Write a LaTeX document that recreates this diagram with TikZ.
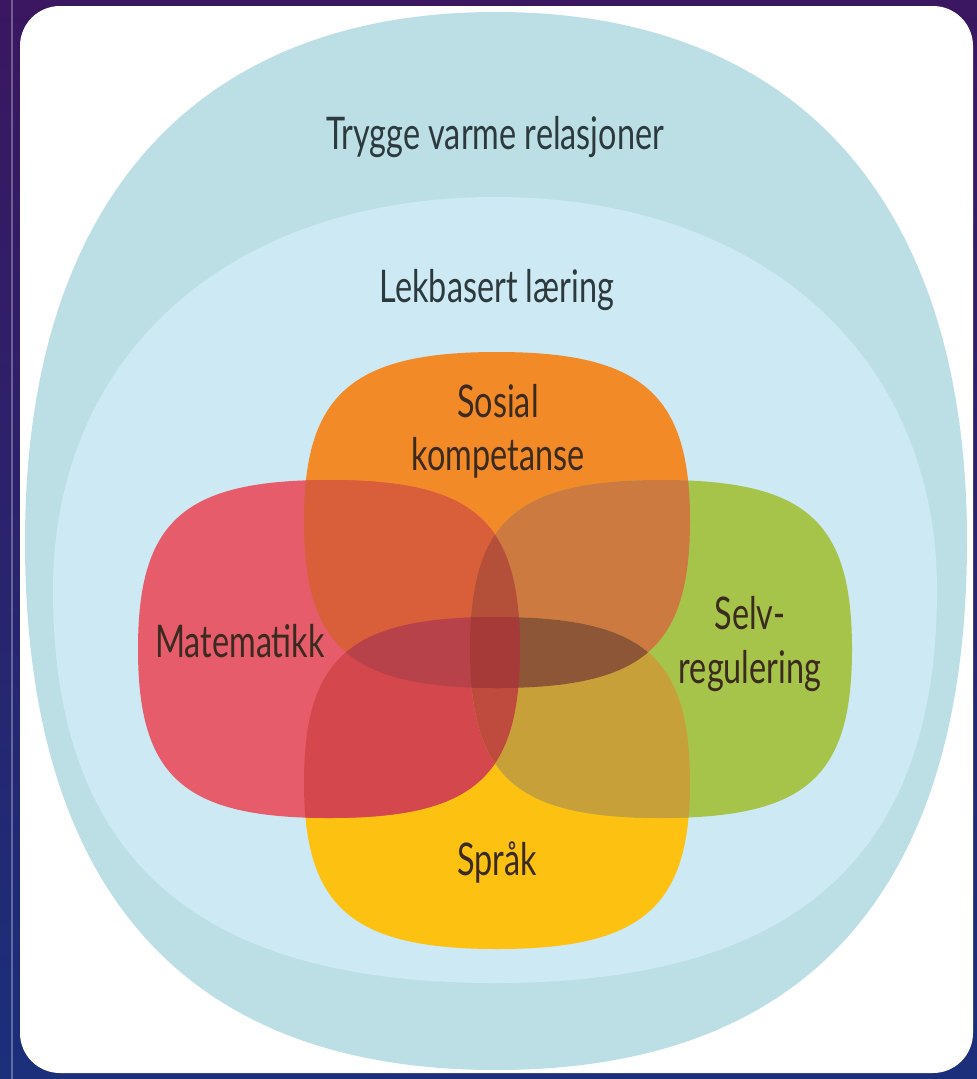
\documentclass[tikz,border=0pt]{standalone}
\usepackage{fontspec}
\setmainfont{Lato}[FakeStretch=0.72]

\definecolor{bgTop}{HTML}{3A1760}
\definecolor{bgBot}{HTML}{1B2F7A}
\definecolor{relOuter}{HTML}{BCDFE5}
\definecolor{lekInner}{HTML}{CDE9F3}
\definecolor{cR}{HTML}{E65C6A}
\definecolor{cO}{HTML}{F28A27}
\definecolor{cG}{HTML}{A7C44A}
\definecolor{cY}{HTML}{FDC112}
\definecolor{cRO}{HTML}{D95E3A}
\definecolor{cOG}{HTML}{CC7A40}
\definecolor{cRY}{HTML}{D4474C}
\definecolor{cGY}{HTML}{C8A03A}
\definecolor{cRGO}{HTML}{B4503A}
\definecolor{cRGY}{HTML}{BE4B3E}
\definecolor{cROY}{HTML}{B8424A}
\definecolor{cGOY}{HTML}{8D5636}
\definecolor{cAll}{HTML}{A53A38}
\definecolor{ink}{HTML}{2C3A3E}
\definecolor{inkDark}{HTML}{3A2A20}

% rounded squircle: centre x, centre y, half width, half height, k top, k bottom
\newcommand{\egg}[6]{(#1+#3,#2) .. controls (#1+#3,#2-#5*#4) and (#1+#5*#3,#2-#4) .. (#1,#2-#4)
  .. controls (#1-#5*#3,#2-#4) and (#1-#3,#2-#5*#4) .. (#1-#3,#2)
  .. controls (#1-#3,#2+#6*#4) and (#1-#6*#3,#2+#4) .. (#1,#2+#4)
  .. controls (#1+#6*#3,#2+#4) and (#1+#3,#2+#6*#4) .. (#1+#3,#2) -- cycle}
\newcommand{\shapeO}{\egg{497}{520}{193}{168}{0.75}{0.76}}
\newcommand{\shapeY}{\egg{497}{783}{193}{166}{0.76}{0.75}}
\newcommand{\shapeR}{\egg{329}{649}{191}{169}{0.76}{0.76}}
\newcommand{\shapeG}{\egg{661}{649}{191}{169}{0.76}{0.76}}

\begin{document}
\begin{tikzpicture}[x=0.025cm, y=-0.025cm,
  lbl/.style={font=\fontsize{32}{38}\selectfont, align=center, inner sep=0pt}]

  \useasboundingbox (0,0) rectangle (977,1079);
  \shade[top color=bgTop, bottom color=bgBot] (0,0) rectangle (977,1079);
  \draw[white, opacity=0.3, line width=1pt] (12,-20) -- (12,1100);
  \fill[white, rounded corners=1cm] (20,6) rectangle (973,1073);

  \fill[relOuter] \egg{496}{541}{471}{529}{0.64}{0.66};
  \fill[lekInner] \egg{495}{590}{442}{393}{0.60}{0.68};

  \fill[cY] \shapeY;
  \fill[cO] \shapeO;
  \fill[cR] \shapeR;
  \fill[cG] \shapeG;

  % overlaps of two
  \foreach \a/\b/\c in {\shapeR/\shapeO/cRO, \shapeO/\shapeG/cOG,
                        \shapeR/\shapeY/cRY, \shapeG/\shapeY/cGY}
  {
    \begin{scope}
      \clip \a;
      \fill[\c] \b;
    \end{scope}
  }

  % overlaps of three
  \foreach \a/\b/\c/\d in {\shapeR/\shapeG/\shapeO/cRGO, \shapeR/\shapeG/\shapeY/cRGY,
                           \shapeO/\shapeY/\shapeR/cROY, \shapeO/\shapeY/\shapeG/cGOY}
  {
    \begin{scope}
      \clip \a;
      \clip \b;
      \fill[\d] \c;
    \end{scope}
  }

  \begin{scope}
    \clip \shapeR;
    \clip \shapeG;
    \clip \shapeO;
    \fill[cAll] \shapeY;
  \end{scope}

  \node[lbl, text=ink] (trygg) at (495,137) {Trygge varme relasjoner};
  \node[lbl, text=ink] (lek) at (497,290) {Lekbasert læring};
  \node[lbl, text=inkDark] (sosial) at (498,431) {Sosial\\kompetanse};
  \node[lbl, text=inkDark] (matte) at (240,641) {Matematikk};
  \node[lbl, text=inkDark] (selv) at (750,644) {Selv-\\regulering};
  \node[lbl, text=inkDark] (sprak) at (497,862) {Språk};

\end{tikzpicture}
\end{document}
